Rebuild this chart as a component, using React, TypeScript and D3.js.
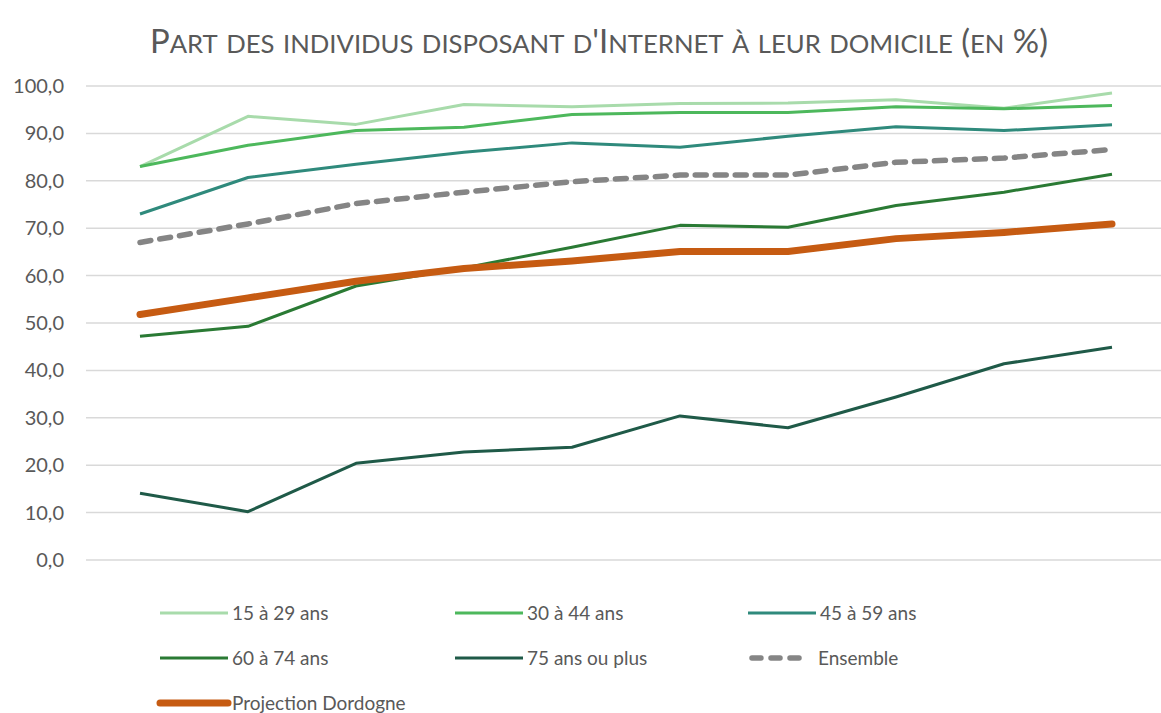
import React from "react";
import * as d3 from "d3";

const years = ["1", "2", "3", "4", "5", "6", "7", "8", "9", "10"];

const age15_29 = [83.0, 93.6, 91.9, 96.1, 95.6, 96.3, 96.4, 97.1, 95.3, 98.5];
const age30_44 = [83.0, 87.5, 90.6, 91.3, 94.0, 94.4, 94.4, 95.6, 95.2, 95.9];
const age45_59 = [73.0, 80.7, 83.5, 86.0, 88.0, 87.1, 89.4, 91.4, 90.6, 91.8];
const age60_74 = [47.2, 49.3, 57.8, 61.6, 66.0, 70.6, 70.2, 74.8, 77.6, 81.4];
const age75plus = [14.1, 10.2, 20.4, 22.8, 23.8, 30.4, 27.9, 34.4, 41.4, 44.9];
const ensemble = [67.0, 70.9, 75.2, 77.6, 79.8, 81.2, 81.2, 83.9, 84.8, 86.6];
const dordogne = [51.8, 55.3, 58.8, 61.5, 63.1, 65.1, 65.1, 67.8, 69.1, 70.9];

const yTicks = [0, 10, 20, 30, 40, 50, 60, 70, 80, 90, 100];

const title = "Part des individus disposant d'Internet à leur domicile (en %)";

const series = [
  { name: "15 à 29 ans", values: age15_29, color: "#a8dbab", width: 3, dash: null },
  { name: "30 à 44 ans", values: age30_44, color: "#4db85c", width: 3, dash: null },
  { name: "45 à 59 ans", values: age45_59, color: "#2f8a7c", width: 3, dash: null },
  { name: "60 à 74 ans", values: age60_74, color: "#2a7a34", width: 3, dash: null },
  { name: "75 ans ou plus", values: age75plus, color: "#1f5a48", width: 3, dash: null },
  { name: "Ensemble", values: ensemble, color: "#858585", width: 5.5, dash: "11 9" },
  { name: "Projection Dordogne", values: dordogne, color: "#c65b12", width: 7, dash: null },
];

const W = 1161;
const H = 713;
const font = "Lato, 'Open Sans', sans-serif";

// split title into runs of full caps / small caps (like Excel's small caps)
function smallCapsRuns(str: string) {
  const runs: { text: string; small: boolean }[] = [];
  for (const ch of str) {
    const small = ch !== ch.toUpperCase();
    const last = runs[runs.length - 1];
    if (last && last.small === small) last.text += ch.toUpperCase();
    else runs.push({ text: ch.toUpperCase(), small });
  }
  return runs;
}

export default function App() {
  const x = d3.scalePoint().domain(years).range([86, 1166]).padding(0.5);
  const y = d3.scaleLinear().domain([0, 100]).range([560, 86]);
  const fmt = (v: number) => d3.format(".1f")(v).replace(".", ",");

  const line = d3
    .line<number>()
    .x((_, i) => x(years[i]) as number)
    .y((d) => y(d));

  const legendCols = [160, 455, 748];
  const legendRows = [613, 658, 703];
  const runs = smallCapsRuns(title);

  return (
    <svg
      width={W}
      height={H}
      style={{ position: "absolute", left: 0, top: 0, background: "#fff" }}
      fontFamily={font}
    >
      <text
        x={599}
        y={53}
        textAnchor="middle"
        fill="#595959"
        fontSize={32}
        textLength={898}
        lengthAdjust="spacingAndGlyphs"
      >
        {runs.map((r, i) => (
          <tspan key={i} fontSize={r.small ? 25 : 32}>
            {r.text}
          </tspan>
        ))}
      </text>

      {yTicks.map((t) => (
        <g key={t}>
          <line x1={86} x2={W} y1={y(t)} y2={y(t)} stroke="#d9d9d9" strokeWidth={1.5} />
          <text x={64} y={y(t)} dy="0.35em" textAnchor="end" fill="#595959" fontSize={20}>
            {fmt(t)}
          </text>
        </g>
      ))}

      {series.map((s) => (
        <path
          key={s.name}
          d={line(s.values) || ""}
          fill="none"
          stroke={s.color}
          strokeWidth={s.width}
          strokeDasharray={s.dash || undefined}
          strokeLinejoin="round"
          strokeLinecap={s.dash || s.width > 5 ? "round" : "butt"}
        />
      ))}

      {series.map((s, i) => {
        const lx = legendCols[i % 3];
        const ly = legendRows[Math.floor(i / 3)];
        return (
          <g key={s.name}>
            <line
              x1={lx + (s.dash ? 4 : 0)}
              x2={lx + (s.dash ? 60 : 68)}
              y1={ly}
              y2={ly}
              stroke={s.color}
              strokeWidth={s.width}
              strokeDasharray={s.dash ? "9 10" : undefined}
              strokeLinecap={s.dash || s.width > 5 ? "round" : "butt"}
            />
            <text x={lx + (s.dash ? 70 : 72)} y={ly} dy="0.35em" fill="#595959" fontSize={19}>
              {s.name}
            </text>
          </g>
        );
      })}
    </svg>
  );
}
